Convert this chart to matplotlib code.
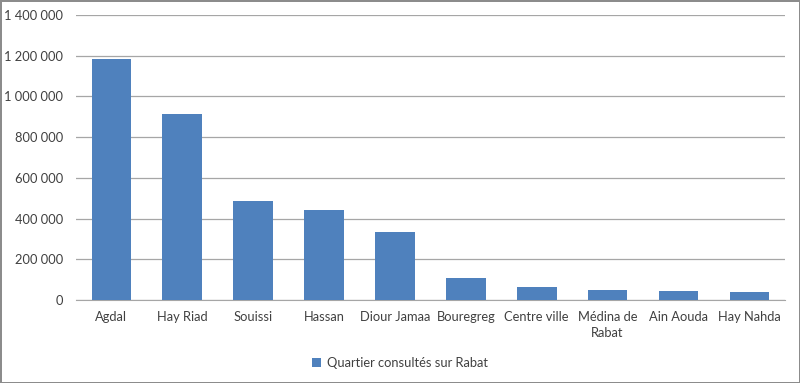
import numpy as np
import matplotlib.pyplot as plt
from matplotlib.ticker import FuncFormatter

quartiers = ['Agdal', 'Hay Riad', 'Souissi', 'Hassan', 'Diour Jamaa',
             'Bouregreg', 'Centre ville', 'Médina de\nRabat', 'Ain Aouda', 'Hay Nahda']
consultations = [1184000, 914000, 484000, 442000, 333000,
                 110000, 62000, 49000, 44000, 39000]
serie = 'Quartier consultés sur Rabat'

plt.rcParams['font.family'] = ['Lato', 'DejaVu Sans']

fig = plt.figure(figsize=(8, 3.83), dpi=100)
fig.patch.set_edgecolor('#8c8c8c')
fig.patch.set_linewidth(2)
ax = fig.add_axes([0.095, 0.2167, 0.886, 0.7441])

x = np.arange(len(quartiers))
ax.bar(x, consultations, width=0.56, color='#4F81BD', label=serie, zorder=3)

ax.set_ylim(0, 1400000)
ax.set_xlim(-0.5, len(quartiers) - 0.5)
ax.set_yticks(np.arange(0, 1400001, 200000))
ax.yaxis.set_major_formatter(FuncFormatter(lambda v, p: f'{int(v):,}'.replace(',', ' ')))
ax.set_xticks(x)
ax.set_xticklabels(quartiers, fontsize=9.3, color='#404040', linespacing=1.35)
ax.tick_params(axis='y', labelsize=9.3, labelcolor='#404040', length=0, pad=9.5)
ax.tick_params(axis='x', length=0, pad=8)
ax.grid(axis='y', color='#a6a6a6', linewidth=0.9, zorder=0)
for s in ['top', 'right', 'left']:
    ax.spines[s].set_visible(False)
ax.spines['bottom'].set_color('#a6a6a6')

fig.legend(loc='lower center', bbox_to_anchor=(0.5, 0.005), frameon=False,
           fontsize=9.3, handlelength=0.7, handleheight=0.7, handletextpad=0.4,
           labelcolor='#404040')

fig.savefig('out.png', dpi=100)
